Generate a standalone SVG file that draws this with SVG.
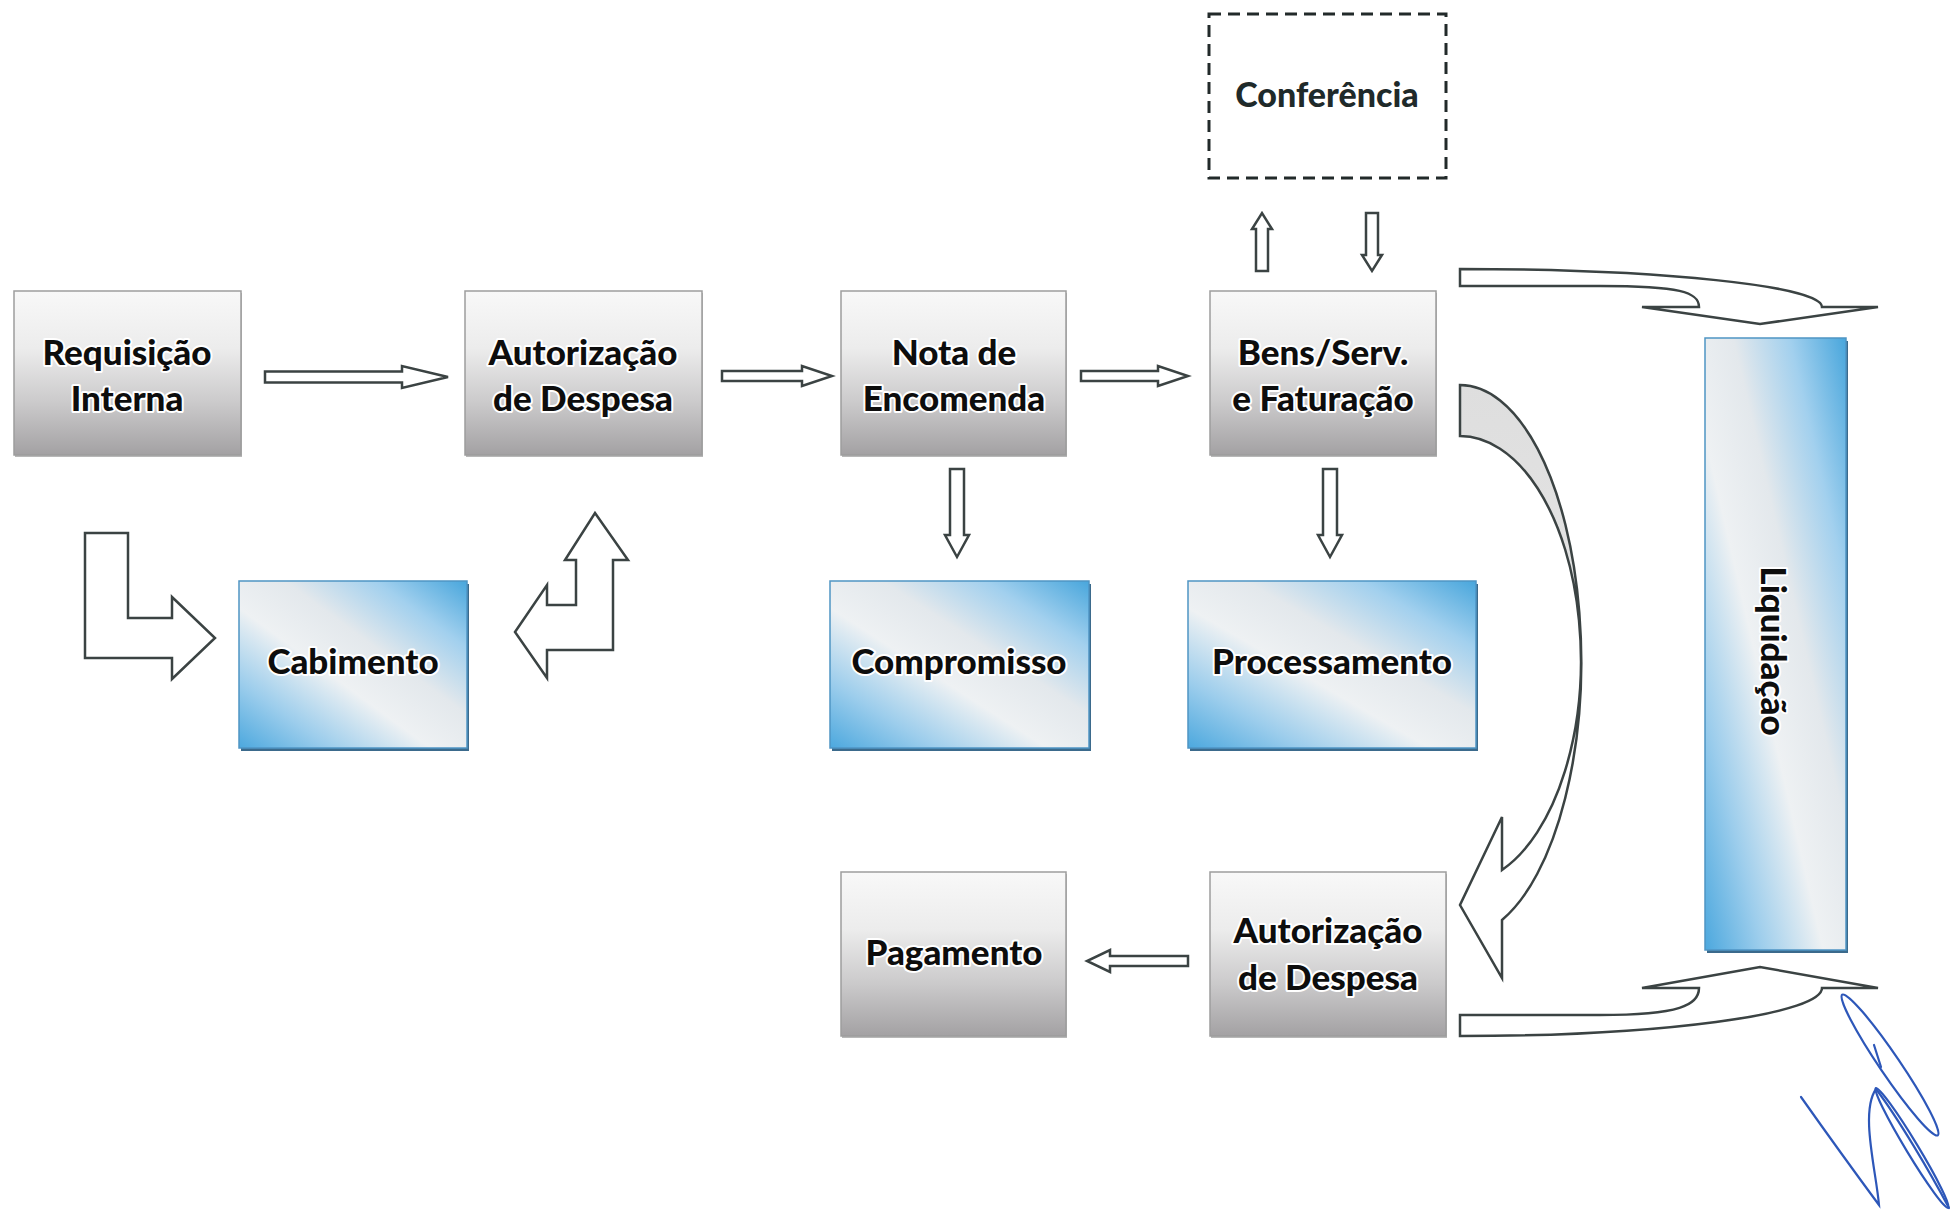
<svg xmlns="http://www.w3.org/2000/svg" width="1951" height="1210" viewBox="0 0 1951 1210">
  <defs>
    <linearGradient id="gGray" x1="0" y1="0" x2="0" y2="1">
      <stop offset="0" stop-color="#f8f8f8"/>
      <stop offset="0.35" stop-color="#ececec"/>
      <stop offset="0.68" stop-color="#cbcacb"/>
      <stop offset="1" stop-color="#a3a1a3"/>
    </linearGradient>
    <linearGradient id="gBlue" x1="0" y1="1" x2="1" y2="0">
      <stop offset="0" stop-color="#4ca8de"/>
      <stop offset="0.2" stop-color="#9ccdec"/>
      <stop offset="0.42" stop-color="#eef1f3"/>
      <stop offset="0.6" stop-color="#e3e8ec"/>
      <stop offset="0.8" stop-color="#a2d0ee"/>
      <stop offset="1" stop-color="#48a6dc"/>
    </linearGradient>
    <!-- back face of the curved arrow is shaded, front face is white -->
    <linearGradient id="gBand" gradientUnits="userSpaceOnUse" x1="0" y1="385" x2="0" y2="920">
      <stop offset="0" stop-color="#dedede"/>
      <stop offset="0.44" stop-color="#e4e4e4"/>
      <stop offset="0.47" stop-color="#ffffff"/>
      <stop offset="1" stop-color="#ffffff"/>
    </linearGradient>
  </defs>
  <style>
    .gray { fill: url(#gGray); stroke: #9d9d9d; stroke-width: 1.5; }
    .gshadow { fill: #b8b8b8; }
    .blue { fill: url(#gBlue); stroke: #4f95c4; stroke-width: 1.5; }
    .bshadow { fill: #3b6a8c; }
    .lbl { font-family: Lato, "Liberation Sans", sans-serif; font-weight: 900; font-size: 35px; fill: #0d0d0d; stroke: #ffffff; stroke-width: 4; stroke-linejoin: round; paint-order: stroke; text-anchor: middle; }
    .conf { font-family: Lato, "Liberation Sans", sans-serif; font-weight: 900; font-size: 34px; fill: #1f2a2a; text-anchor: middle; }
    .arrow { fill: #ffffff; stroke: #3b4343; stroke-width: 2.5; stroke-linejoin: miter; }
    .sig { fill: none; stroke: #2d57b9; stroke-width: 2.2; stroke-linecap: round; }
  </style>

  <rect width="1951" height="1210" fill="#ffffff"/>

  <!-- process boxes -->
  <g id="requisicao">
    <rect class="gshadow" x="15" y="293" width="227" height="164"/>
    <rect class="gray" x="14" y="291" width="227" height="164"/>
    <text class="lbl" x="127" y="365">Requisição</text>
    <text class="lbl" x="127" y="411">Interna</text>
  </g>
  <g id="autorizacao1">
    <rect class="gshadow" x="466" y="293" width="237" height="164"/>
    <rect class="gray" x="465" y="291" width="237" height="164"/>
    <text class="lbl" x="583" y="365">Autorização</text>
    <text class="lbl" x="583" y="411">de Despesa</text>
  </g>
  <g id="nota">
    <rect class="gshadow" x="842" y="293" width="225" height="164"/>
    <rect class="gray" x="841" y="291" width="225" height="164"/>
    <text class="lbl" x="954" y="365">Nota de</text>
    <text class="lbl" x="954" y="411">Encomenda</text>
  </g>
  <g id="bens">
    <rect class="gshadow" x="1211" y="293" width="226" height="164"/>
    <rect class="gray" x="1210" y="291" width="226" height="164"/>
    <text class="lbl" x="1323" y="365">Bens/Serv.</text>
    <text class="lbl" x="1323" y="411">e Faturação</text>
  </g>
  <g id="conferencia">
    <rect x="1209" y="14" width="237" height="164" fill="#ffffff" stroke="#222a2a" stroke-width="3" stroke-dasharray="12 7"/>
    <text class="conf" x="1327" y="107">Conferência</text>
  </g>
  <g id="cabimento">
    <rect class="bshadow" x="241" y="584" width="228" height="167"/>
    <rect class="blue" x="239" y="581" width="228" height="167"/>
    <text class="lbl" x="353" y="674">Cabimento</text>
  </g>
  <g id="compromisso">
    <rect class="bshadow" x="832" y="584" width="259" height="167"/>
    <rect class="blue" x="830" y="581" width="259" height="167"/>
    <text class="lbl" x="959" y="674">Compromisso</text>
  </g>
  <g id="processamento">
    <rect class="bshadow" x="1190" y="584" width="288" height="167"/>
    <rect class="blue" x="1188" y="581" width="288" height="167"/>
    <text class="lbl" x="1332" y="674">Processamento</text>
  </g>
  <g id="liquidacao">
    <rect class="bshadow" x="1707" y="341" width="141" height="612"/>
    <rect class="blue" x="1705" y="338" width="141" height="612"/>
    <text class="lbl" transform="translate(1761,651) rotate(90)" x="0" y="0">Liquidação</text>
  </g>
  <g id="pagamento">
    <rect class="gshadow" x="842" y="874" width="225" height="164"/>
    <rect class="gray" x="841" y="872" width="225" height="164"/>
    <text class="lbl" x="954" y="965">Pagamento</text>
  </g>
  <g id="autorizacao2">
    <rect class="gshadow" x="1211" y="874" width="236" height="164"/>
    <rect class="gray" x="1210" y="872" width="236" height="164"/>
    <text class="lbl" x="1328" y="943">Autorização</text>
    <text class="lbl" x="1328" y="990">de Despesa</text>
  </g>

  <!-- block arrows -->
  <g id="connectors">
    <path class="arrow" d="M265,371.5 H402 V366 L448,377 L402,388 V382.5 H265 Z"/>
    <path class="arrow" d="M722,371 H802 V366 L832,376 L802,386 V381 H722 Z"/>
    <path class="arrow" d="M1081,371 H1158 V366 L1188,376 L1158,386 V381 H1081 Z"/>
    <path class="arrow" d="M950,469 H964 V535 H969 L957,557 L945,535 H950 Z"/>
    <path class="arrow" d="M1323,469 H1337 V535 H1342 L1330,557 L1318,535 H1323 Z"/>
    <path class="arrow" d="M1256,271 V229 H1252 L1262,213 L1272,229 H1268 V271 Z"/>
    <path class="arrow" d="M1366,213 H1378 V255 H1382 L1372,271 L1362,255 H1366 Z"/>
    <path class="arrow" d="M1188,956 H1110 V950 L1087,961 L1110,972 V966 H1188 Z"/>
    <!-- bent arrow into Cabimento -->
    <path class="arrow" d="M85,533 H128 V618 H172 V597 L215,638 L172,679 V658 H85 Z"/>
    <!-- bent arrow from Cabimento up to Autorização -->
    <path class="arrow" d="M595,513 L628,560 H613 V650 H547 V678 L515,632 L547,585 V605 H576 V560 H565 Z"/>
    <!-- curved arrows to Liquidação -->
    <path class="arrow" d="M1460,269 A362,38 0 0 1 1822,307 H1878 L1760,324 L1642,307 H1699 C1699,292 1680,286 1600,286 H1460 Z"/>
    <path class="arrow" d="M1460,1036 A362,48 0 0 0 1822,988 H1878 L1760,967 L1642,988 H1699 C1699,1005 1680,1015 1600,1015 H1460 Z"/>
    <!-- curved arrow down to the second Autorização -->
    <path class="arrow" style="fill:url(#gBand)" d="M1460,385 A121,276 0 0 1 1502,920 V978 L1460,905 L1502,817 V870 A121,224 0 0 0 1460,436 Z"/>
  </g>

  <!-- handwritten initials -->
  <g id="initials">
    <path class="sig" d="M1801,1097 C1830,1138 1862,1182 1879,1205 C1876,1170 1860,1112 1876,1089 C1898,1118 1930,1172 1949,1208"/>
    <ellipse class="sig" cx="1890" cy="1065" rx="85" ry="10" transform="rotate(55.8 1890 1065)"/>
    <ellipse class="sig" cx="1912" cy="1148" rx="70" ry="6" transform="rotate(58.8 1912 1148)"/>
    <path class="sig" d="M1874,1045 L1881,1067"/>
  </g>
</svg>
